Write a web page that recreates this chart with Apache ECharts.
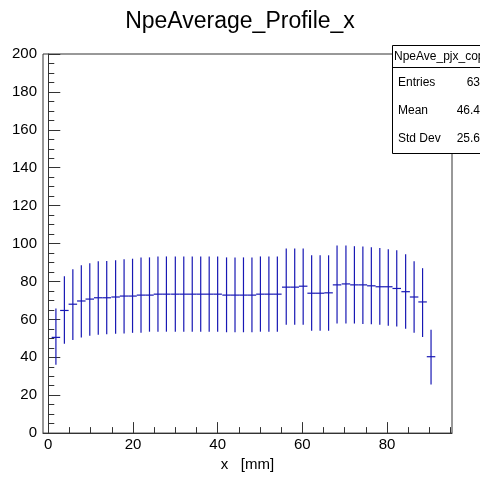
<!DOCTYPE html>
<html>
<head>
<meta charset="utf-8">
<title>NpeAverage_Profile_x</title>
<script src="https://cdn.jsdelivr.net/npm/echarts@6/dist/echarts.min.js"></script>
<style>
  html, body { margin: 0; padding: 0; background: #fff; }
  #chart { width: 480px; height: 477px; }
</style>
</head>
<body>
<div id="chart"></div>
<script>
// bin centres (mm), profile mean and error bar ends
const xCenters = [1.8, 3.8, 5.8, 7.8, 9.8, 11.8, 13.8, 15.9, 17.9, 19.9,
  21.9, 23.9, 25.9, 27.9, 30.0, 32.0, 34.0, 36.0, 38.0, 40.0,
  42.1, 44.1, 46.1, 48.1, 50.1, 52.1, 54.1, 56.2, 58.2, 60.2,
  62.2, 64.2, 66.2, 68.2, 70.3, 72.3, 74.3, 76.3, 78.3, 80.3,
  82.3, 84.4, 86.4, 88.4, 90.4];
const means = [50.5, 64.7, 68.0, 69.7, 70.7, 71.4, 71.4, 71.8, 72.3, 72.3,
  72.8, 72.8, 73.3, 73.3, 73.3, 73.3, 73.3, 73.3, 73.3, 73.3,
  72.8, 72.8, 72.8, 72.8, 73.3, 73.3, 73.3, 77.0, 77.0, 77.5,
  73.8, 73.8, 74.0, 78.2, 78.7, 78.2, 78.2, 77.7, 77.2, 77.2,
  76.3, 74.6, 71.8, 69.2, 40.3];
const errLow = [36.0, 47.1, 49.1, 50.5, 51.4, 51.9, 52.2, 52.4, 52.6, 52.9,
  52.9, 53.5, 53.5, 53.5, 53.5, 53.5, 53.5, 53.5, 53.5, 53.5,
  53.2, 53.2, 53.2, 53.2, 53.5, 53.5, 53.5, 57.2, 57.2, 57.2,
  54.0, 54.0, 54.0, 57.8, 57.8, 57.8, 57.6, 57.4, 57.2, 56.7,
  56.2, 55.0, 52.9, 50.7, 25.6];
const errHigh = [65.7, 82.7, 86.5, 88.6, 89.6, 90.6, 90.8, 91.2, 91.7, 92.0,
  92.7, 92.7, 93.2, 93.2, 93.2, 93.2, 93.2, 93.2, 93.2, 93.2,
  92.7, 92.7, 92.7, 92.7, 93.2, 93.2, 93.2, 97.4, 97.4, 97.4,
  93.8, 93.8, 93.8, 99.0, 99.0, 98.6, 98.4, 98.1, 97.6, 97.0,
  96.5, 94.3, 90.6, 87.0, 54.5];
const binWidth = 2.01;

const xMajorTicks = [0, 20, 40, 60, 80];
const xMinorTicks = [5, 10, 15, 25, 30, 35, 45, 50, 55, 65, 70, 75, 85, 90, 95];

const statsLabels = ['Entries', 'Mean', 'Std Dev'];
const statsValues = ['63', '46.4', '25.6'];

const FONT = '"Liberation Sans", Arial, Helvetica, sans-serif';
const LINE = '#1818b4';

const profileData = xCenters.map((x, i) => [x, means[i], errLow[i], errHigh[i]]);

const myChart = echarts.init(document.getElementById('chart'));

const option = {
  animation: false,
  backgroundColor: '#fff',
  title: {
    text: 'NpeAverage_Profile_x',
    left: 'center',
    top: 5,
    textStyle: { fontFamily: FONT, fontSize: 23, fontWeight: 'normal', color: '#000' }
  },
  grid: {
    left: 43, top: 54, right: 28, bottom: 37,
    show: true, borderColor: '#333', borderWidth: 1, backgroundColor: 'transparent'
  },
  xAxis: [{
    type: 'value',
    min: -1.25, max: 95.35,
    name: 'x   [mm]',
    nameLocation: 'middle',
    nameGap: 17,
    nameTextStyle: { fontFamily: FONT, fontSize: 15, color: '#000' },
    axisLine: { show: true, lineStyle: { color: '#333', width: 1 } },
    axisTick: { show: true, inside: true, length: 11, customValues: xMajorTicks, lineStyle: { color: '#333' } },
    axisLabel: { customValues: xMajorTicks, fontFamily: FONT, fontSize: 15, color: '#000', margin: 4 },
    splitLine: { show: false }
  }, {
    type: 'value',
    position: 'bottom',
    min: -1.25, max: 95.35,
    axisLine: { show: false },
    axisTick: { show: true, inside: true, length: 6, customValues: xMinorTicks, lineStyle: { color: '#333' } },
    axisLabel: { show: false },
    splitLine: { show: false }
  }],
  yAxis: {
    type: 'value',
    min: 0, max: 200, interval: 20,
    axisLine: { show: true, lineStyle: { color: '#333', width: 1 } },
    axisTick: { show: true, inside: true, length: 12, lineStyle: { color: '#333' } },
    minorTick: { show: true, splitNumber: 4, length: 6, lineStyle: { color: '#333' } },
    axisLabel: { fontFamily: FONT, fontSize: 15, color: '#000', margin: 6 },
    splitLine: { show: false }
  },
  series: [{
    type: 'custom',
    xAxisIndex: 0,
    clip: true,
    data: profileData,
    renderItem: function (params, api) {
      const x = api.value(0), m = api.value(1), lo = api.value(2), hi = api.value(3);
      const pLo = api.coord([x, lo]);
      const pHi = api.coord([x, hi]);
      const pL = api.coord([x - binWidth / 2, m]);
      const pR = api.coord([x + binWidth / 2, m]);
      return {
        type: 'group',
        children: [
          { type: 'line', shape: { x1: pLo[0], y1: pLo[1], x2: pHi[0], y2: pHi[1] },
            style: { stroke: LINE, lineWidth: 1.2 } },
          { type: 'line', shape: { x1: pL[0], y1: pL[1], x2: pR[0], y2: pR[1] },
            style: { stroke: LINE, lineWidth: 1.2 } }
        ]
      };
    }
  }],
  graphic: [{
    type: 'group',
    left: 390, top: 45,
    z: 100,
    children: [
      { type: 'rect', shape: { x: 0.5, y: 0.5, width: 100, height: 108 },
        style: { fill: '#fff', stroke: '#000', lineWidth: 1 } },
      { type: 'line', shape: { x1: 0.5, y1: 22.5, x2: 100, y2: 22.5 },
        style: { stroke: '#000', lineWidth: 1 } },
      { type: 'text', x: 2, y: 12,
        style: { text: 'NpeAve_pjx_cop', fontFamily: FONT, fontSize: 12, fill: '#000', verticalAlign: 'middle' } }
    ].concat(statsLabels.map((t, i) => ({
      type: 'text', x: 6, y: 38 + i * 28,
      style: { text: t, fontFamily: FONT, fontSize: 12, fill: '#000', verticalAlign: 'middle' }
    }))).concat(statsValues.map((t, i) => ({
      type: 'text', x: 88, y: 38 + i * 28,
      style: { text: t, fontFamily: FONT, fontSize: 12, fill: '#000', align: 'right', verticalAlign: 'middle' }
    })))
  }]
};

myChart.setOption(option);
</script>
</body>
</html>
